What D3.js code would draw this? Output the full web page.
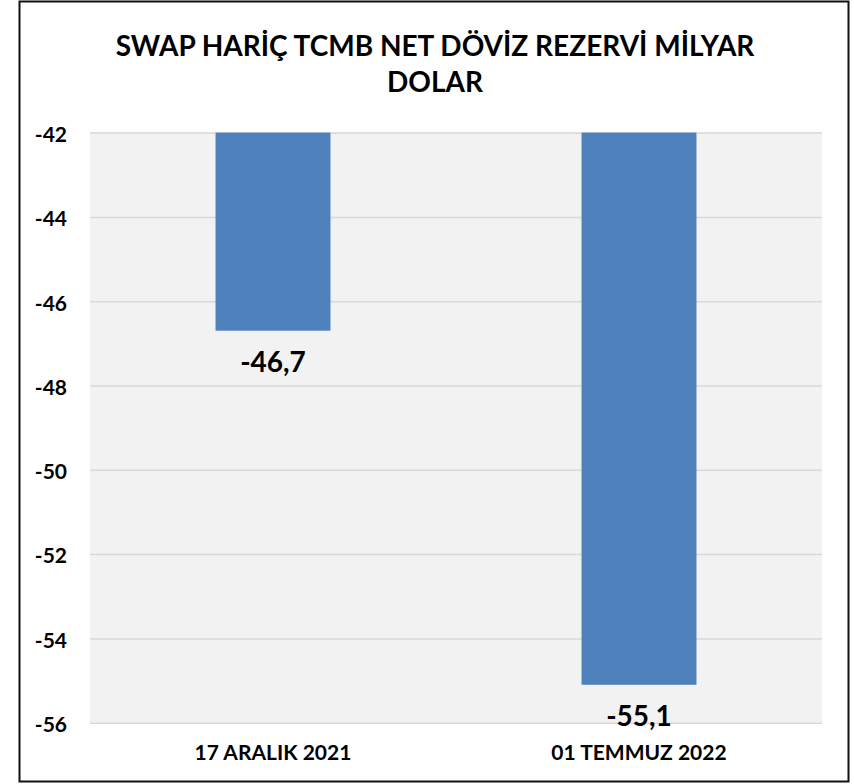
<!DOCTYPE html>
<html>
<head>
<meta charset="utf-8">
<script src="https://cdn.jsdelivr.net/npm/d3@7"></script>
<style>
  body { margin: 0; background: #fff; }
  text { font-family: Lato, "Open Sans", sans-serif; font-weight: bold; fill: #000; }
</style>
</head>
<body>
<svg id="chart" width="854" height="784"></svg>
<script>
"use strict";

const titleLines = ["SWAP HARİÇ TCMB NET DÖVİZ REZERVİ MİLYAR", "DOLAR"];
const categories = ["17 ARALIK 2021", "01 TEMMUZ 2022"];
const values = [-46.7, -55.1];
const tickValues = [-42, -44, -46, -48, -50, -52, -54, -56];

const svg = d3.select("#chart");
const plot = {left: 90, right: 822, top: 132.6, bottom: 722.7};

// outer frame
svg.append("rect")
    .attr("x", 19.5).attr("y", 1.5)
    .attr("width", 829).attr("height", 780)
    .attr("fill", "#fff")
    .attr("stroke", "#111")
    .attr("stroke-width", 2);

const x = d3.scaleBand()
    .domain(categories)
    .range([plot.left, plot.right])
    .paddingInner(0.686)
    .paddingOuter(0.343);

const y = d3.scaleLinear()
    .domain([-42, -56])
    .range([plot.top, plot.bottom]);

// plot background
svg.append("rect")
    .attr("x", plot.left).attr("y", plot.top)
    .attr("width", plot.right - plot.left)
    .attr("height", plot.bottom - plot.top)
    .attr("fill", "#f2f2f2");

// gridlines
const grid = svg.append("g")
    .attr("transform", "translate(" + plot.left + ",0)")
    .call(d3.axisRight(y).tickValues(tickValues).tickFormat("").tickSize(plot.right - plot.left));
grid.select(".domain").remove();
grid.selectAll(".tick line").attr("stroke", "#d9d9d9").attr("stroke-width", 1.5);

// y axis labels
const yAxis = svg.append("g")
    .attr("transform", "translate(" + plot.left + ",0)")
    .call(d3.axisLeft(y).tickValues(tickValues).tickFormat(d => String(d)).tickSize(0).tickPadding(23));
yAxis.select(".domain").remove();
yAxis.selectAll(".tick text")
    .attr("dy", "0.42em")
    .style("font-size", "21px");

// bars
svg.append("g").selectAll("rect")
    .data(values)
    .enter()
    .append("rect")
    .attr("x", (d, i) => x(categories[i]))
    .attr("y", y(-42))
    .attr("width", x.bandwidth())
    .attr("height", d => y(d) - y(-42))
    .attr("fill", "#4f81bd");

// value labels
svg.append("g").selectAll("text")
    .data(values)
    .enter()
    .append("text")
    .attr("x", (d, i) => x(categories[i]) + x.bandwidth() / 2)
    .attr("y", d => y(d) + 41)
    .attr("text-anchor", "middle")
    .style("font-size", "28px")
    .text(d => d.toFixed(1).replace(".", ","));

// category labels
const xAxis = svg.append("g")
    .attr("transform", "translate(0," + plot.bottom + ")")
    .call(d3.axisBottom(x).tickSize(0).tickPadding(22));
xAxis.select(".domain").remove();
xAxis.selectAll(".tick text")
    .attr("dy", "0.71em")
    .style("font-size", "21px");

// title
svg.append("g").selectAll("text")
    .data(titleLines)
    .enter()
    .append("text")
    .attr("x", 435)
    .attr("y", (d, i) => 56 + i * 36)
    .attr("text-anchor", "middle")
    .style("font-size", "28px")
    .text(d => d);
</script>
</body>
</html>
